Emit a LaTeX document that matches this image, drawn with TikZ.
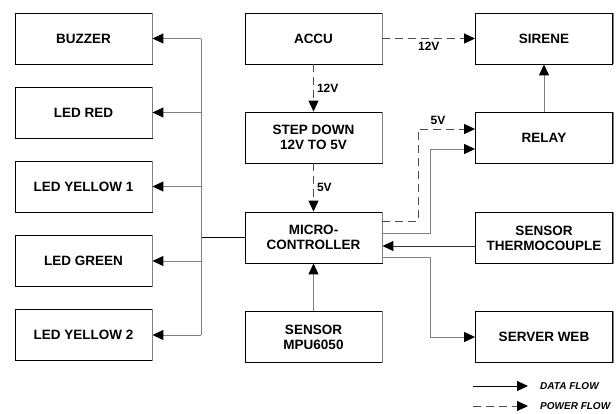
\documentclass[tikz,border=0pt]{standalone}
\usepackage{fontspec}
\setmainfont{Liberation Sans}
\usetikzlibrary{arrows.meta,calc}
\begin{document}
\begin{tikzpicture}[x=1pt,y=-1pt,
  >={Triangle[length=11pt,width=10pt,fill=black,color=black]},
  box/.style={draw=black,line width=0.9pt,minimum width=137pt,minimum height=51pt,
    align=center,inner sep=2pt,font=\fontsize{13.5}{15}\selectfont\bfseries},
  df/.style={->,draw=black!50,line width=1pt},
  pw/.style={->,draw=black!70,line width=1pt,dash pattern=on 8pt off 5pt},
  lbl/.style={font=\fontsize{12}{14}\selectfont\bfseries,text=black,inner sep=1pt},
  leg/.style={font=\fontsize{10}{12}\selectfont\bfseries\itshape,anchor=west,inner sep=0pt}]
\useasboundingbox (0,0) rectangle (616,413);
% left column
\node[box] (buzzer) at (83.5,38.5) {BUZZER};
\node[box] (ledred) at (83.5,112.5) {LED RED};
\node[box] (ledy1) at (83.5,186.5) {LED YELLOW 1};
\node[box] (ledg) at (83.5,261) {LED GREEN};
\node[box] (ledy2) at (83.5,335) {LED YELLOW 2};
% middle column
\node[box] (accu) at (313.5,38.5) {ACCU};
\node[box] (step) at (313.5,137.5) {STEP DOWN\\12V TO 5V};
\node[box] (micro) at (313.5,237.5) {MICRO-\\CONTROLLER};
\node[box] (mpu) at (313.5,337) {SENSOR\\MPU6050};
% right column
\node[box] (sirene) at (544,38.5) {SIRENE};
\node[box] (relay) at (544,138) {RELAY};
\node[box] (thermo) at (544,238) {SENSOR\\THERMOCOUPLE};
\node[box] (server) at (544,337) {SERVER WEB};
% gray right edges
\foreach \n in {buzzer,ledred,ledy1,ledg,ledy2,accu,step,micro,mpu,sirene,relay,thermo,server}
  \draw[black!50,line width=0.9pt] (\n.north east) -- (\n.south east);
% bus to left column
\coordinate (bus) at (201,237.5);
\draw[black,line width=1.1pt] (micro.west) -- (bus);
\draw[black!50,line width=1pt] (bus |- buzzer.east) -- (bus |- ledy2.east);
\foreach \n in {buzzer,ledred,ledy1,ledg,ledy2}
  \draw[df] (bus |- \n.east) -- (\n.east);
% power flow
\draw[pw] (accu) -- node[lbl,below=2pt]{12V} (sirene);
\draw[pw] (accu) -- node[lbl,right=2pt]{12V} (step);
\draw[pw] (step) -- node[lbl,right=2pt]{5V} (micro);
\draw[pw] ([yshift=16.5pt]micro.east) -- ++(36,0) |- ([yshift=9pt]relay.west);
\node[lbl] (l5v) at (438,120) {5V};
% data flow
\draw[df] ([yshift=4.5pt]micro.east) -- ++(48,0) |- ([yshift=-11pt]relay.west);
\draw[df,draw=black!80] ([yshift=-8pt]thermo.west) -- ([yshift=-8pt]thermo.west -| micro.east);
\draw[df] ([yshift=-19.5pt]micro.east) -- ++(48,0) |- (server.west);
\draw[df] (relay) -- (sirene);
\draw[df] (mpu) -- (micro);
% legend
\coordinate (la) at (473,386);
\coordinate (lb) at (528,386);
\coordinate (lc) at (473,406);
\coordinate (ld) at (528,406);
\draw[->,black,line width=1pt] (la) -- (lb);
\draw[pw] (lc) -- (ld);
\node[leg] (ldata) at (540,386) {DATA FLOW};
\node[leg] (lpower) at (540,406) {POWER FLOW};
\end{tikzpicture}
\end{document}
